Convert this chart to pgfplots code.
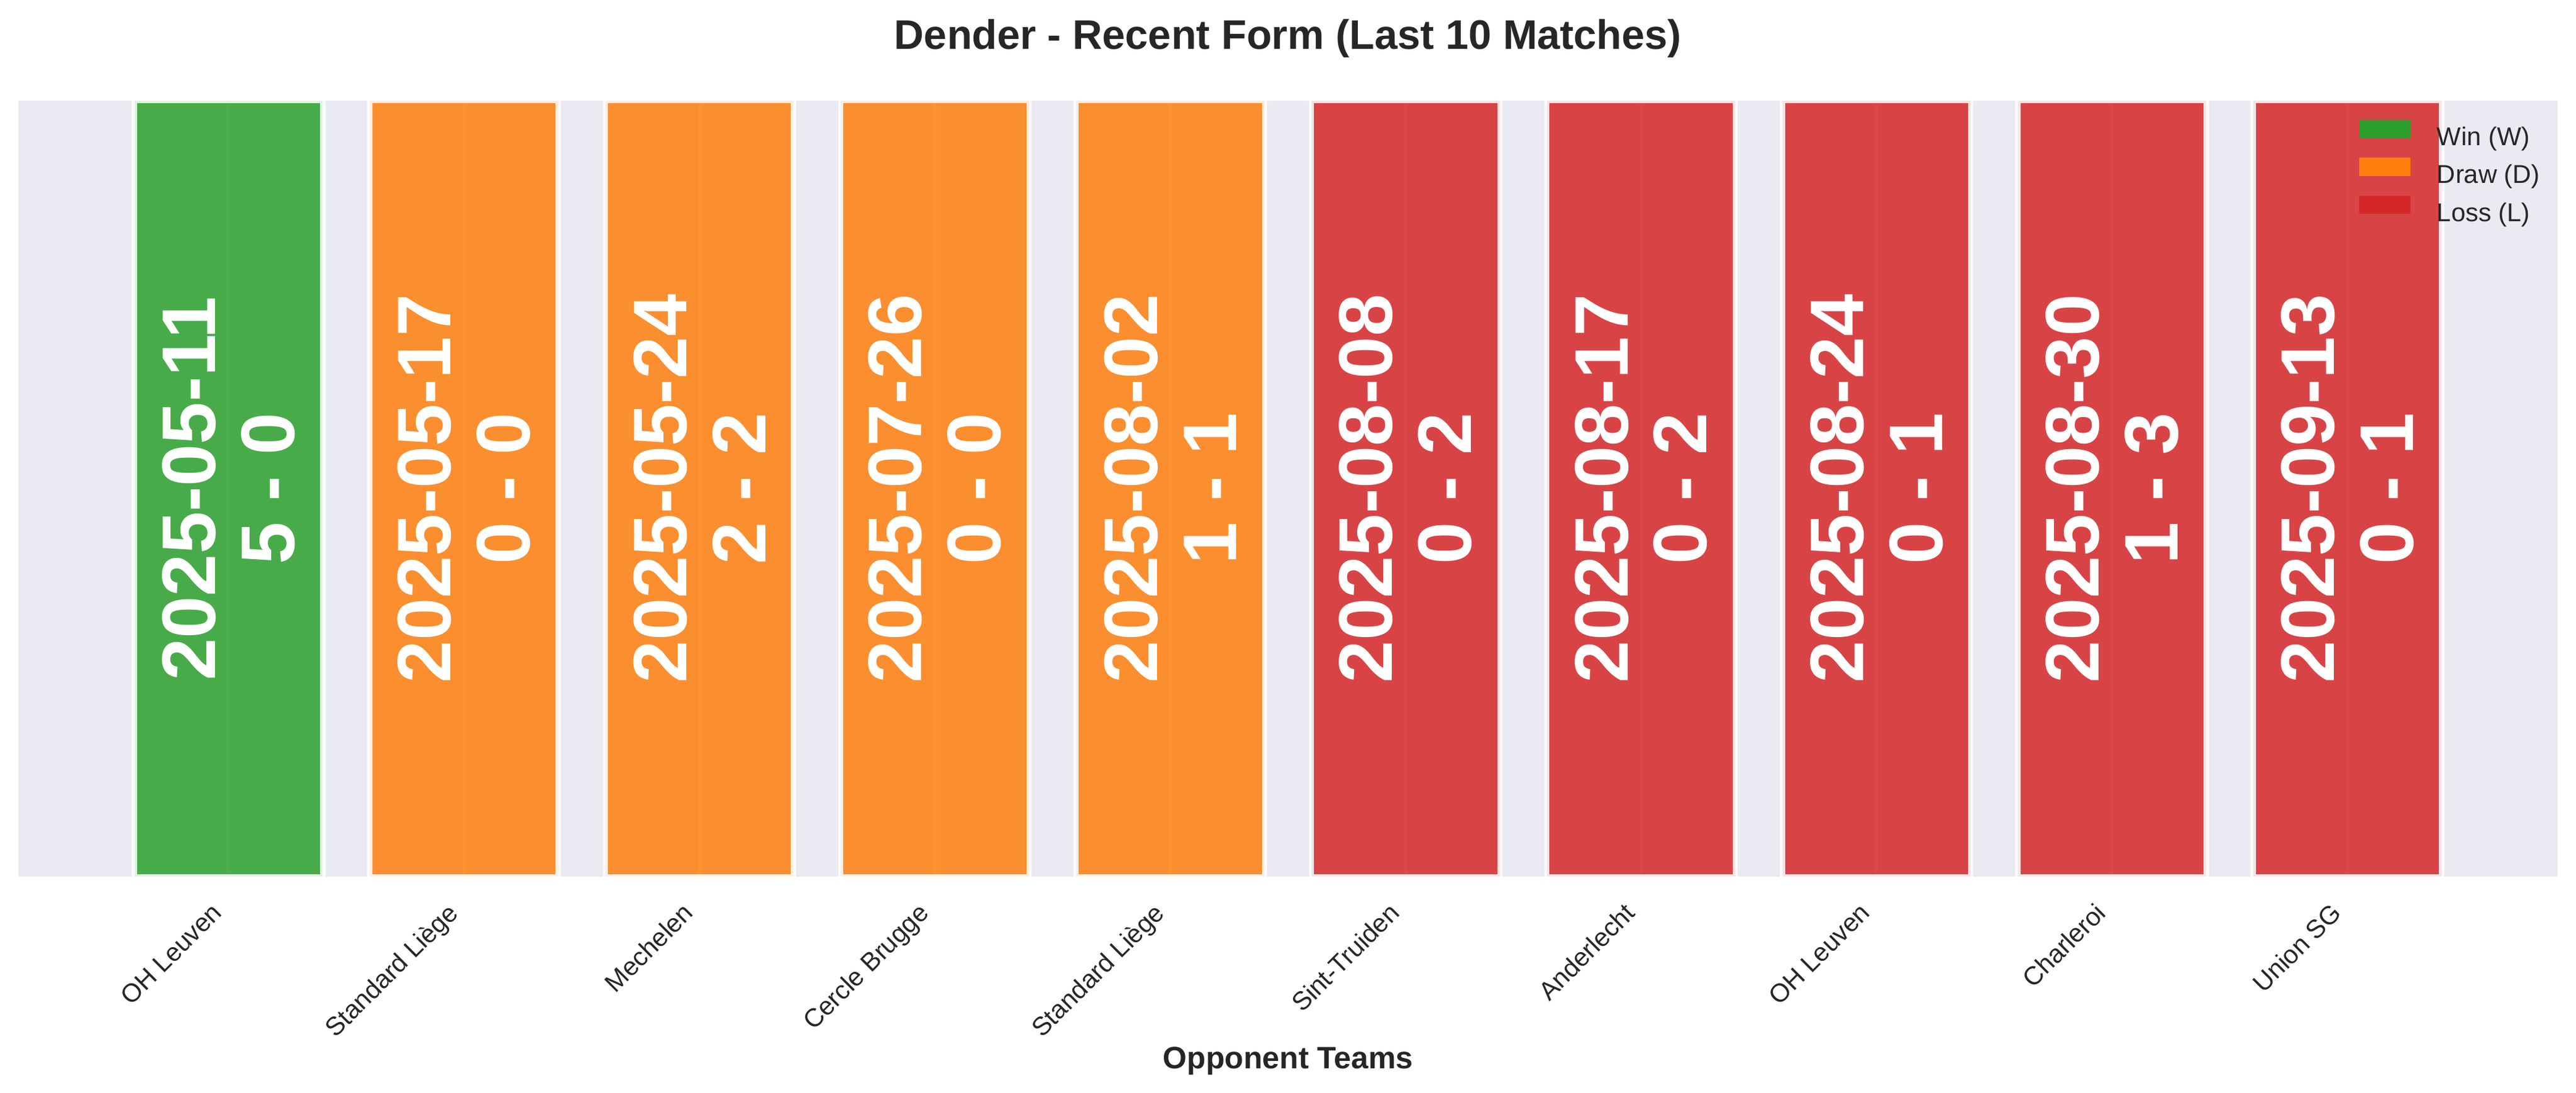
\documentclass[border=0pt]{standalone}
\usepackage{pgfplots}
\pgfplotsset{compat=1.18}
\usepackage{fontspec}
\setmainfont{Liberation Sans}
\definecolor{bgcol}{HTML}{EAEAF2}
\definecolor{txtcol}{HTML}{262626}
\definecolor{wincol}{HTML}{2CA02C}
\definecolor{drawcol}{HTML}{FF7F0E}
\definecolor{losscol}{HTML}{D62728}
\begin{document}
\begin{tikzpicture}
\useasboundingbox (-7.2pt,-84pt) rectangle (993.6pt,340.5pt);
\begin{axis}[
    width=986.4pt, height=301.4pt, scale only axis,
    xmin=-0.892, xmax=9.892, ymin=0, ymax=1,
    axis background/.style={fill=bgcol},
    axis line style={draw=none},
    major tick length=0pt,
    ytick=\empty,
    xtick={0,...,9},
    xticklabels={OH Leuven, Standard Liège, Mechelen, Cercle Brugge, Standard Liège, Sint-Truiden, Anderlecht, OH Leuven, Charleroi, Union SG},
    xticklabel style={font=\fontsize{10}{12}\selectfont, text=txtcol, xshift=-7pt, yshift=-4.7pt, rotate=45, anchor=north east},
    xmajorgrids,
    major grid style={white, line width=1.2pt},
    title={Dender - Recent Form (Last 10 Matches)},
    every axis title/.style={at={(axis description cs:0.5,1)}, anchor=base, yshift=19.9pt, font=\fontsize{16}{19}\selectfont\bfseries, text=txtcol},
    xlabel={Opponent Teams},
    every axis x label/.style={at={(axis description cs:0.5,0)}, anchor=base, yshift=-74.6pt, font=\fontsize{12}{14}\selectfont\bfseries, text=txtcol},
    legend style={at={(0.9219,0.975)}, anchor=north west, draw=none, fill=none, inner sep=0pt, outer sep=0pt,
        font=\fontsize{10}{12}\selectfont, text=txtcol, row sep=1.2pt, column sep=8.2pt},
    legend cell align=left,
    bar width=0.8,
]
\addplot[ybar, bar shift=0pt, fill=wincol, fill opacity=0.85, draw=white, draw opacity=0.85, line width=2pt,
    legend image code/.code={\fill[wincol, fill opacity=1, draw=none] (0pt,0.1pt) rectangle (20pt,7.1pt);}]
    coordinates {(0,1)};
\addlegendentry{Win (W)}
\addplot[ybar, bar shift=0pt, fill=drawcol, fill opacity=0.85, draw=white, draw opacity=0.85, line width=2pt,
    legend image code/.code={\fill[drawcol, fill opacity=1, draw=none] (0pt,0.1pt) rectangle (20pt,7.1pt);}]
    coordinates {(1,1) (2,1) (3,1) (4,1)};
\addlegendentry{Draw (D)}
\addplot[ybar, bar shift=0pt, fill=losscol, fill opacity=0.85, draw=white, draw opacity=0.85, line width=2pt,
    legend image code/.code={\fill[losscol, fill opacity=1, draw=none] (0pt,0.1pt) rectangle (20pt,7.1pt);}]
    coordinates {(5,1) (6,1) (7,1) (8,1) (9,1)};
\addlegendentry{Loss (L)}
% date and score written on each bar
\addplot[draw=none, mark=none, forget plot, point meta=explicit symbolic,
    nodes near coords={\pgfplotspointmeta},
    every node near coord/.append style={rotate=90, anchor=center, align=center, text=white,
        font=\fontsize{29.5}{30.7}\selectfont\bfseries}]
    coordinates {
    (0,0.5) [{2025-05-11\\5 - 0}]
    (1,0.5) [{2025-05-17\\0 - 0}]
    (2,0.5) [{2025-05-24\\2 - 2}]
    (3,0.5) [{2025-07-26\\0 - 0}]
    (4,0.5) [{2025-08-02\\1 - 1}]
    (5,0.5) [{2025-08-08\\0 - 2}]
    (6,0.5) [{2025-08-17\\0 - 2}]
    (7,0.5) [{2025-08-24\\0 - 1}]
    (8,0.5) [{2025-08-30\\1 - 3}]
    (9,0.5) [{2025-09-13\\0 - 1}]
    };
\end{axis}
\end{tikzpicture}
\end{document}
